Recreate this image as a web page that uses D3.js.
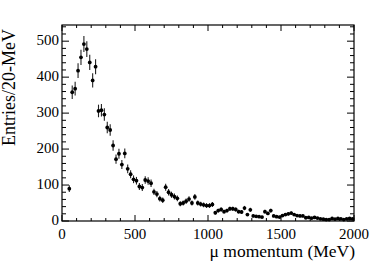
<!DOCTYPE html>
<html><head><meta charset="utf-8"><script src="https://cdn.jsdelivr.net/npm/d3@7"></script></head>
<body style="margin:0">
<script>
// 20 MeV bins, first filled bin centred at 50 MeV
const binCentres = d3.range(50, 2000, 20);
const counts = [
  90, 358, 368, 418, 455,
  492, 478, 441, 391, 429,
  306, 308, 296, 260, 253,
  210, 172, 187, 157, 188,
  145, 130, 116, 112, 96,
  93, 114, 111, 105, 81,
  75, 62, 58, 94, 80,
  73, 68, 63, 48, 50,
  55, 61, 50, 67, 50,
  47, 45, 43, 43, 46,
  23, 29, 32, 26, 29,
  34, 34, 32, 26, 25,
  36, 18, 31, 14, 13,
  12, 11, 26, 21, 29,
  14, 12, 11, 15, 18,
  20, 22, 18, 15, 14,
  14, 9, 10, 8, 10,
  8, 6, 5, 4, 4,
  7, 5, 7, 6, 4,
  6, 7, 6,
];
const xTicks = [0, 500, 1000, 1500, 2000];
const yTicks = [0, 100, 200, 300, 400, 500];

const points = binCentres.map((m, i) => ({ m, n: counts[i] }));

const W = 374, H = 265;
const margin = { top: 25, right: 20, bottom: 44, left: 62 };
const width = W - margin.left - margin.right;
const height = H - margin.top - margin.bottom;
const fontFam = '"Liberation Serif", "Times New Roman", Times, Tinos';

const svg = d3.select("body").append("svg")
  .attr("width", W).attr("height", H);

const g = svg.append("g")
  .attr("transform", `translate(${margin.left},${margin.top})`);

const x = d3.scaleLinear().domain([0, 2000]).range([0, width]);
const y = d3.scaleLinear().domain([0, 545]).range([height, 0]);

// ROOT-style ticks, all pointing inwards
const xMinor = d3.range(0, 2001, 100);
const yMinor = d3.range(0, 541, 20);

const ticks = g.append("g").attr("stroke", "#000").attr("stroke-width", 1);
xMinor.forEach((v) => {
  const len = v % 500 === 0 ? 6 : 3;
  ticks.append("line").attr("x1", x(v)).attr("x2", x(v))
    .attr("y1", height).attr("y2", height - len);
  ticks.append("line").attr("x1", x(v)).attr("x2", x(v))
    .attr("y1", 0).attr("y2", len);
});
yMinor.forEach((v) => {
  const len = v % 100 === 0 ? 7 : 4;
  ticks.append("line").attr("x1", 0).attr("x2", len)
    .attr("y1", y(v)).attr("y2", y(v));
  ticks.append("line").attr("x1", width).attr("x2", width - len)
    .attr("y1", y(v)).attr("y2", y(v));
});

// frame
g.append("rect")
  .attr("width", width).attr("height", height)
  .attr("fill", "none").attr("stroke", "#000").attr("stroke-width", 1.2);

// tick labels
g.append("g").selectAll("text").data(xTicks).join("text")
  .attr("x", (d) => x(d)).attr("y", height + 18)
  .attr("text-anchor", "middle").attr("font-size", 15)
  .style("font-family", fontFam)
  .text((d) => d);

g.append("g").selectAll("text").data(yTicks).join("text")
  .attr("x", -3).attr("y", (d) => y(d) + 4)
  .attr("text-anchor", "end").attr("font-size", 15)
  .style("font-family", fontFam)
  .text((d) => d);

// axis titles
svg.append("text")
  .attr("x", margin.left + width + 1).attr("y", 256.5)
  .attr("text-anchor", "end").attr("font-size", 17.5)
  .style("font-family", fontFam)
  .text("\u03bc momentum (MeV)");

svg.append("text")
  .attr("transform", `translate(15,${margin.top + 4}) rotate(-90)`)
  .attr("text-anchor", "end").attr("font-size", 18)
  .style("font-family", fontFam)
  .text("Entries/20-MeV");

// data: error bars (Poisson) and markers
const pts = g.append("g");
pts.selectAll("line").data(points).join("line")
  .attr("x1", (d) => x(d.m)).attr("x2", (d) => x(d.m))
  .attr("y1", (d) => y(d.n + Math.sqrt(d.n)))
  .attr("y2", (d) => y(d.n - Math.sqrt(d.n)))
  .attr("stroke", "#222").attr("stroke-width", 1.1);
pts.selectAll("circle").data(points).join("circle")
  .attr("cx", (d) => x(d.m)).attr("cy", (d) => y(d.n))
  .attr("r", 1.9).attr("fill", "#000");
</script>
</body></html>
